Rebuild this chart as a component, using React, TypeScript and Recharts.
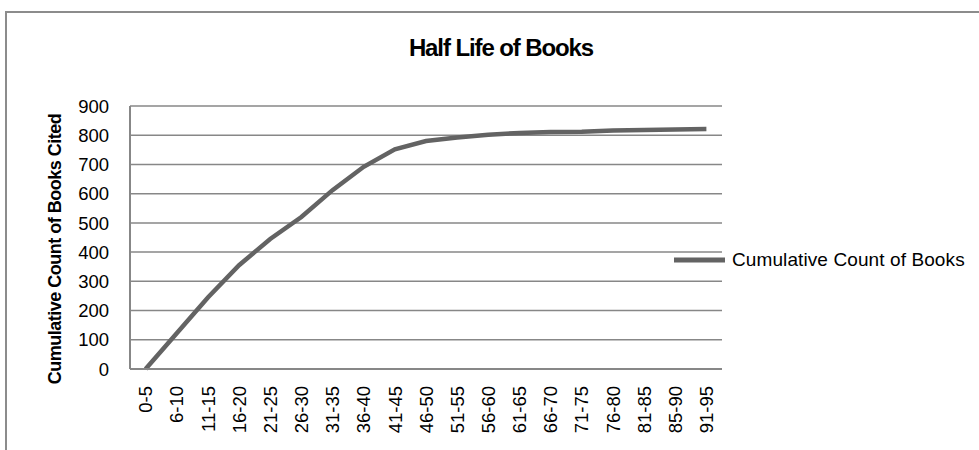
import { LineChart, Line, XAxis, YAxis, CartesianGrid, Legend } from 'recharts';

const AGE_BANDS = [
  '0-5', '6-10', '11-15', '16-20', '21-25', '26-30', '31-35', '36-40', '41-45', '46-50',
  '51-55', '56-60', '61-65', '66-70', '71-75', '76-80', '81-85', '85-90', '91-95',
];
const CUMULATIVE_BOOKS = [
  0, 122, 245, 355, 445, 520, 612, 692, 752, 780,
  792, 802, 808, 811, 812, 816, 818, 820, 821,
];
const Y_TICKS = [0, 100, 200, 300, 400, 500, 600, 700, 800, 900];

const FONT = '"Liberation Sans", Arial, sans-serif';
const LINE_COLOR = '#636363';
const GRID_COLOR = '#878787';

// plot box in page pixels
const PLOT_LEFT = 130;
const PLOT_RIGHT = 722;
const PLOT_TOP = 106;
const PLOT_BOTTOM = 369;

const data = AGE_BANDS.map((band, i) => ({ band, books: CUMULATIVE_BOOKS[i] }));

function XTick(props: any) {
  const { x, y, payload, index } = props;
  const id = `xclip-${index}`;
  return (
    <g clipPath={`url(#${id})`}>
      <defs>
        <clipPath id={id}>
          <rect x={0} y={0} width={PLOT_RIGHT} height={450} />
        </clipPath>
      </defs>
      <text
        x={x}
        y={y}
        transform={`rotate(-90, ${x}, ${y})`}
        textAnchor="end"
        dy="0.36em"
        fontSize={18.5}
        fontFamily={FONT}
        fill="#000"
      >
        {payload.value}
      </text>
    </g>
  );
}

function YTick(props: any) {
  const { x, y, payload } = props;
  return (
    <text
      x={x}
      y={y}
      textAnchor="end"
      dy="0.36em"
      fontSize={18.5}
      fontFamily={FONT}
      fill="#000"
    >
      {payload.value}
    </text>
  );
}

function YLabel() {
  const cx = 55;
  const cy = 249;
  return (
    <text
      x={cx}
      y={cy}
      transform={`rotate(-90, ${cx}, ${cy})`}
      textAnchor="middle"
      dominantBaseline="central"
      fontSize={18}
      fontWeight="bold"
      letterSpacing={-0.5}
      fontFamily={FONT}
      fill="#000"
    >
      Cumulative Count of Books Cited
    </text>
  );
}

function LegendContent() {
  return (
    <div style={{ display: 'flex', alignItems: 'center', fontFamily: FONT, whiteSpace: 'nowrap' }}>
      <svg width={51} height={6} style={{ display: 'block' }}>
        <line x1={0} y1={3} x2={51} y2={3} stroke={LINE_COLOR} strokeWidth={5} />
      </svg>
      <span style={{ marginLeft: 7, fontSize: 19, color: '#000', letterSpacing: 0.1 }}>
        Cumulative Count of Books
      </span>
    </div>
  );
}

export default function App() {
  return (
    <div
      style={{
        position: 'absolute',
        left: 0,
        top: 0,
        width: 979,
        height: 450,
        overflow: 'hidden',
        background: '#fff',
        fontFamily: FONT,
      }}
    >
      <div
        style={{
          position: 'absolute',
          left: 5,
          top: 11,
          width: 1000,
          height: 500,
          border: '2px solid #8c8c8c',
        }}
      />
      <div
        style={{
          position: 'absolute',
          left: 0,
          width: 1002,
          top: 34,
          textAlign: 'center',
          fontSize: 24,
          fontWeight: 'bold',
          letterSpacing: -1.1,
          color: '#000',
        }}
      >
        Half Life of Books
      </div>
      <div style={{ position: 'absolute', left: 0, top: 0 }}>
        <LineChart
          width={979}
          height={450}
          data={data}
          margin={{ top: PLOT_TOP, right: 979 - PLOT_RIGHT, left: 0, bottom: 0 }}
        >
          <CartesianGrid vertical={false} stroke={GRID_COLOR} strokeWidth={1.5} />
          <XAxis
            dataKey="band"
            height={450 - PLOT_BOTTOM}
            interval={0}
            padding={{ left: 15.6, right: 15.6 }}
            axisLine={{ stroke: GRID_COLOR, strokeWidth: 2 }}
            tickLine={false}
            tickSize={0}
            tickMargin={17}
            tick={<XTick />}
          />
          <YAxis
            width={PLOT_LEFT}
            domain={[0, 900]}
            ticks={Y_TICKS}
            interval={0}
            axisLine={{ stroke: GRID_COLOR, strokeWidth: 2 }}
            tickLine={false}
            tickSize={0}
            tickMargin={21}
            tick={<YTick />}
            label={<YLabel />}
          />
          <Legend
            content={<LegendContent />}
            wrapperStyle={{ left: 674, top: 249, width: 'auto', height: 0, overflow: 'visible' }}
          />
          <Line
            dataKey="books"
            name="Cumulative Count of Books"
            type="linear"
            stroke={LINE_COLOR}
            strokeWidth={4.5}
            dot={false}
            activeDot={false}
            isAnimationActive={false}
          />
        </LineChart>
      </div>
    </div>
  );
}
